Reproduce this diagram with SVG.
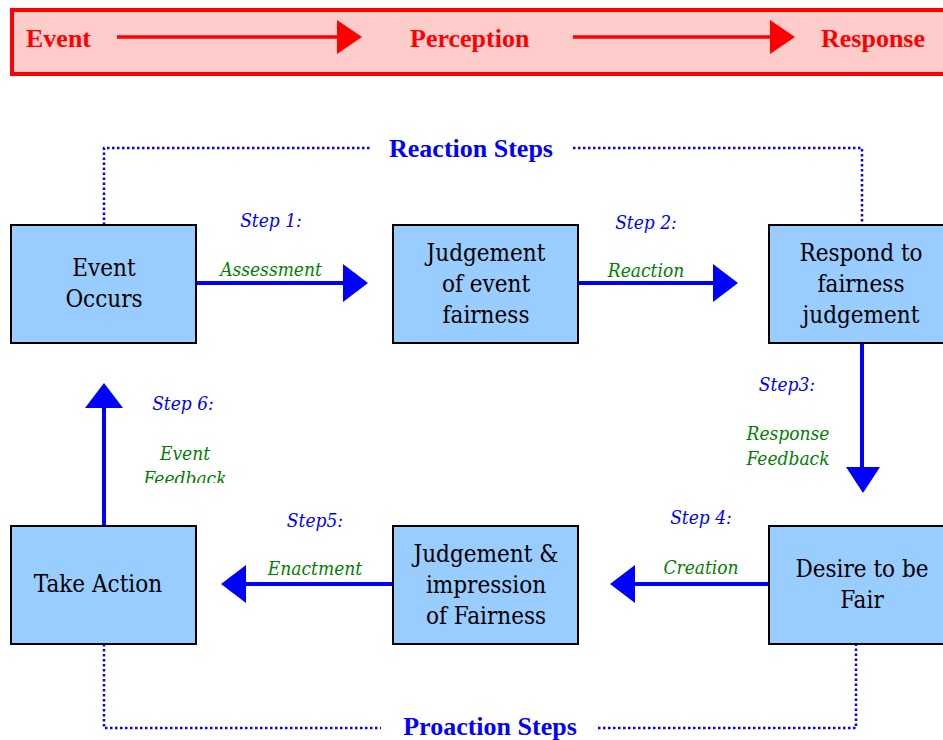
<svg xmlns="http://www.w3.org/2000/svg" width="943" height="740" viewBox="0 0 943 740">
  <defs>
    <style>
      .hdr { font-family: "Liberation Serif", "Times New Roman", serif; font-weight: bold; font-size: 26px; fill: #FF0000; }
      .phase { font-family: "Liberation Serif", "Times New Roman", serif; font-weight: bold; font-size: 26px; fill: #0000FF; text-anchor: middle; }
      .box { fill: #99CCFF; stroke: #000000; stroke-width: 2; }
      .lbl { font-family: "DejaVu Serif Condensed", "DejaVu Serif", serif; font-size: 24px; fill: #000000; text-anchor: middle; }
      .step { font-family: "DejaVu Serif Condensed", "DejaVu Serif", serif; font-style: italic; font-size: 19px; fill: #0000FF; text-anchor: middle; }
      .act { font-family: "DejaVu Serif Condensed", "DejaVu Serif", serif; font-style: italic; font-size: 19px; fill: #008000; text-anchor: middle; }
      .flow { stroke: #0000FF; stroke-width: 4; fill: none; }
      .head { fill: #0000FF; }
      .dots { stroke: #0000FF; stroke-width: 2.5; stroke-dasharray: 2.5 2.5; fill: none; }
    </style>
    <clipPath id="clip-step6">
      <rect x="120" y="380" width="140" height="103"/>
    </clipPath>
  </defs>

  <!-- Header band: Event -> Perception -> Response -->
  <g id="header">
    <rect x="12" y="10" width="940" height="64" fill="#FFCCCC" stroke="#FF0000" stroke-width="4"/>
    <text class="hdr" x="26" y="47">Event</text>
    <line x1="117" y1="37" x2="340" y2="37" stroke="#FF0000" stroke-width="3.5"/>
    <polygon points="337,20 362,37 337,54" fill="#FF0000"/>
    <text class="hdr" x="410" y="47">Perception</text>
    <line x1="573" y1="37" x2="773" y2="37" stroke="#FF0000" stroke-width="3.5"/>
    <polygon points="770,20 795,37 770,54" fill="#FF0000"/>
    <text class="hdr" x="821" y="47">Response</text>
  </g>

  <!-- Phase labels -->
  <g id="phases">
    <text class="phase" x="471" y="157">Reaction Steps</text>
    <text class="phase" x="490" y="735">Proaction Steps</text>
  </g>

  <!-- Connectors -->
  <g id="connectors">
    <!-- dotted phase brackets -->
    <polyline class="dots" points="104,225 104,148 372,148"/>
    <polyline class="dots" points="573,148 862,148 862,225"/>
    <polyline class="dots" points="104,644 104,728 381,728"/>
    <polyline class="dots" points="598,728 856,728 856,644"/>

    <!-- Step 1 -->
    <line class="flow" x1="196" y1="283" x2="345" y2="283"/>
    <polygon class="head" points="343,264 368,283 343,302"/>
    <!-- Step 2 -->
    <line class="flow" x1="578" y1="283" x2="715" y2="283"/>
    <polygon class="head" points="713,264 738,283 713,302"/>
    <!-- Step 3 -->
    <line class="flow" x1="862" y1="343" x2="862" y2="469"/>
    <polygon class="head" points="846,467 880,467 863,493"/>
    <!-- Step 4 -->
    <line class="flow" x1="769" y1="584" x2="633" y2="584"/>
    <polygon class="head" points="635,565 610,584 635,603"/>
    <!-- Step 5 -->
    <line class="flow" x1="393" y1="584" x2="244" y2="584"/>
    <polygon class="head" points="246,565 221,584 246,603"/>
    <!-- Step 6 -->
    <line class="flow" x1="104" y1="526" x2="104" y2="406"/>
    <polygon class="head" points="85,408 104,383 123,408"/>

    <!-- step captions -->
    <text class="step" x="271" y="227">Step 1:</text>
    <text class="act" x="271" y="276">Assessment</text>
    <text class="step" x="646" y="229">Step 2:</text>
    <text class="act" x="646" y="277">Reaction</text>
    <text class="step" x="787" y="391">Step3:</text>
    <text class="act" x="788" y="440">Response</text>
    <text class="act" x="788" y="465">Feedback</text>
    <text class="step" x="701" y="524">Step 4:</text>
    <text class="act" x="701" y="574">Creation</text>
    <text class="step" x="315" y="527">Step5:</text>
    <text class="act" x="315" y="575">Enactment</text>
    <text class="step" x="183" y="410">Step 6:</text>
    <g clip-path="url(#clip-step6)">
      <text class="act" x="185" y="460">Event</text>
      <text class="act" x="185" y="485">Feedback</text>
    </g>
  </g>

  <!-- Nodes -->
  <g id="event-occurs">
    <rect class="box" x="11" y="225" width="185" height="118"/>
    <text class="lbl" x="104" y="276">Event</text>
    <text class="lbl" x="104" y="307">Occurs</text>
  </g>
  <g id="judgement-event">
    <rect class="box" x="393" y="225" width="185" height="118"/>
    <text class="lbl" x="486" y="261">Judgement</text>
    <text class="lbl" x="486" y="292">of event</text>
    <text class="lbl" x="486" y="323">fairness</text>
  </g>
  <g id="respond">
    <rect class="box" x="769" y="225" width="185" height="118"/>
    <text class="lbl" x="861" y="261">Respond to</text>
    <text class="lbl" x="861" y="292">fairness</text>
    <text class="lbl" x="861" y="323">judgement</text>
  </g>
  <g id="desire">
    <rect class="box" x="769" y="526" width="185" height="118"/>
    <text class="lbl" x="862" y="577">Desire to be</text>
    <text class="lbl" x="862" y="608">Fair</text>
  </g>
  <g id="judgement-impression">
    <rect class="box" x="393" y="526" width="185" height="118"/>
    <text class="lbl" x="486" y="562">Judgement &amp;</text>
    <text class="lbl" x="486" y="593">impression</text>
    <text class="lbl" x="486" y="624">of Fairness</text>
  </g>
  <g id="take-action">
    <rect class="box" x="11" y="526" width="185" height="118"/>
    <text class="lbl" x="98" y="592">Take Action</text>
  </g>
</svg>
